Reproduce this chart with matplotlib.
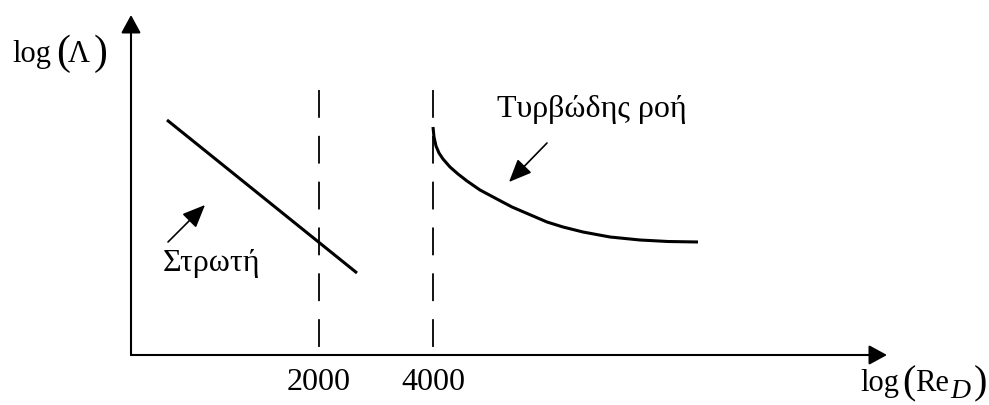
import matplotlib
matplotlib.use("Agg")
import matplotlib.pyplot as plt

plt.rcParams['font.family'] = ['Liberation Serif', 'DejaVu Serif']
plt.rcParams['lines.scale_dashes'] = False

# schematic coordinates: origin at the axes corner, y up
x_axis_end = 756
y_axis_end = 340

# critical Reynolds numbers (dashed lines)
re_pos = [188, 302]
re_labels = ["2000", "4000"]
dash_top = 265
dash_bottom = 5

# laminar branch (straight line)
lam_x = [36, 226]
lam_y = [235, 82]

# turbulent branch
turb_x = [302, 303, 305, 308, 312, 319, 327, 336, 349, 364, 381, 402, 416,
          432, 452, 479, 509, 537, 567]
turb_y = [228, 218, 209, 202, 196, 188, 181, 174, 165, 157, 148, 139, 133,
          128, 123, 118, 115, 113.5, 113]

fig = plt.figure(figsize=(9.89, 4.05), dpi=100)
ax = fig.add_axes([0, 0, 1, 1])
ax.set_xlim(-131, 858)
ax.set_ylim(-50, 355)
ax.axis('off')

# axes with arrow heads
axis_arrow = dict(arrowstyle='-|>,head_length=0.55,head_width=0.3', lw=1.5,
                  color='black', mutation_scale=20, shrinkA=0, shrinkB=0)
ax.annotate('', xy=(x_axis_end, 0), xytext=(0, 0), arrowprops=axis_arrow)
ax.annotate('', xy=(0, y_axis_end), xytext=(0, 0), arrowprops=axis_arrow)

for xp, lab in zip(re_pos, re_labels):
    ax.plot([xp, xp], [dash_top, dash_bottom], color='black', lw=1.3,
            linestyle=(0, (20, 13)))
    ax.text(xp, -27, lab, ha='center', va='center', fontsize=23)

ax.plot(lam_x, lam_y, color='black', lw=2.2, solid_capstyle='butt')
ax.plot(turb_x, turb_y, color='black', lw=2.2, solid_capstyle='butt')

small_arrow = dict(arrowstyle='-|>,head_length=0.7,head_width=0.3', lw=1.2,
                   color='black', mutation_scale=20, shrinkA=0, shrinkB=0)
ax.annotate('', xy=(378, 173), xytext=(416, 212), arrowprops=small_arrow)
ax.annotate('', xy=(74, 150), xytext=(37, 113), arrowprops=small_arrow)

ax.text(461, 245, "Τυρβώδης ροή", ha='center', va='center', fontsize=23)
ax.text(81, 92, "Στρωτή", ha='center', va='center', fontsize=23)

# y label: log(Λ) with tall brackets
ax.text(-119, 293, "log", ha='left', va='baseline', fontsize=22)
ax.text(-75, 291, "(", ha='left', va='baseline', fontsize=30)
ax.text(-63, 293, "Λ", ha='left', va='baseline', fontsize=22)
ax.text(-37, 291, ")", ha='left', va='baseline', fontsize=30)

# x label: log(Re_D)
ax.text(729, -36, "log", ha='left', va='baseline', fontsize=22)
ax.text(771, -38, "(", ha='left', va='baseline', fontsize=29)
ax.text(784, -36, "Re", ha='left', va='baseline', fontsize=22)
ax.text(819, -43, "D", ha='left', va='baseline', fontsize=20, style='italic')
ax.text(843, -38, ")", ha='left', va='baseline', fontsize=29)

fig.savefig("out.png", dpi=100)
